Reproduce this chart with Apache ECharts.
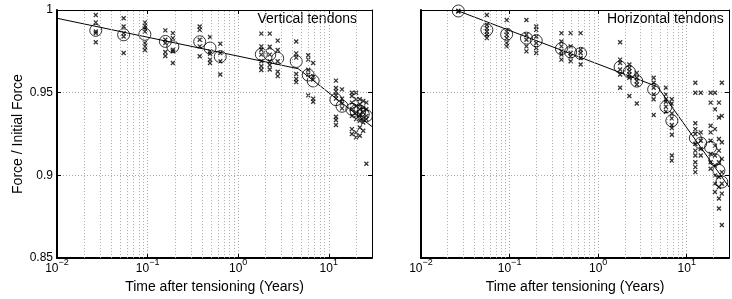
<!DOCTYPE html>
<html>
<head>
<meta charset="utf-8">
<script src="https://cdn.jsdelivr.net/npm/echarts@6/dist/echarts.min.js"></script>
<style>
  html, body { margin: 0; padding: 0; background: #fff; }
  #chart { width: 732px; height: 299px; }
</style>
</head>
<body>
<div id="chart"></div>
<script>
// ---- vertical tendons (left panel) ----
const vTimes = [0.0268, 0.0544, 0.0933, 0.157, 0.19, 0.376, 0.489, 0.634, 1.80, 2.23, 2.73, 4.37, 5.93, 6.73, 12.0, 14.0, 18, 20, 22, 24, 26];
const vMeans = [0.9877, 0.985, 0.9853, 0.981, 0.9778, 0.9808, 0.977, 0.9718, 0.9732, 0.973, 0.9708, 0.9689, 0.9607, 0.9571, 0.9458, 0.9418, 0.940, 0.939, 0.939, 0.937, 0.936];
const vReadings = [
  [0.997, 0.9925, 0.987, 0.986, 0.9805],
  [0.995, 0.990, 0.986, 0.984, 0.974],
  [0.9925, 0.9905, 0.989, 0.987, 0.980, 0.978, 0.9758],
  [0.9877, 0.982, 0.980, 0.9746, 0.9722],
  [0.986, 0.983, 0.976, 0.975, 0.968],
  [0.990, 0.988, 0.982, 0.978, 0.972],
  [0.9837, 0.975, 0.9736, 0.970, 0.968],
  [0.9796, 0.974, 0.969, 0.961],
  [0.9857, 0.978, 0.976, 0.973, 0.969, 0.966, 0.9637],
  [0.9857, 0.9778, 0.973, 0.969, 0.9667, 0.964],
  [0.9815, 0.9758, 0.969, 0.9627, 0.960],
  [0.981, 0.9738, 0.9712, 0.9613, 0.9583, 0.9564],
  [0.9726, 0.970, 0.9639, 0.961, 0.9484],
  [0.968, 0.960, 0.958, 0.9464, 0.9445],
  [0.9573, 0.9528, 0.9508, 0.9484, 0.9464, 0.9355, 0.9335, 0.9305],
  [0.952, 0.9464, 0.9435, 0.9405],
  [0.950, 0.948, 0.944, 0.940, 0.936, 0.928, 0.925],
  [0.950, 0.946, 0.942, 0.938, 0.934, 0.926, 0.923],
  [0.946, 0.943, 0.940, 0.937, 0.933, 0.929, 0.924],
  [0.945, 0.941, 0.938, 0.935, 0.932, 0.927],
  [0.944, 0.940, 0.936, 0.934, 0.907]
];
const vFitT = [0.01, 4.6, 30];
const vFitF = [0.995, 0.9645, 0.9295];

// ---- horizontal tendons (right panel) ----
const hTimes = [0.0264, 0.0554, 0.0927, 0.155, 0.2, 0.385, 0.489, 0.634, 1.77, 2.25, 2.73, 4.23, 5.83, 6.79, 12.5, 14.4, 18.6, 20.8, 23.1, 24.9];
const hMeans = [0.9994, 0.988, 0.9853, 0.983, 0.9814, 0.9766, 0.9746, 0.9738, 0.9655, 0.9627, 0.957, 0.952, 0.9415, 0.933, 0.9226, 0.9195, 0.917, 0.9095, 0.903, 0.896];
const hReadings = [
  [0.9995, 0.999],
  [0.997, 0.991, 0.989, 0.987, 0.985, 0.983],
  [0.994, 0.987, 0.985, 0.983, 0.980, 0.978],
  [0.994, 0.985, 0.982, 0.978, 0.975],
  [0.990, 0.988, 0.984, 0.980, 0.977, 0.974],
  [0.986, 0.981, 0.978, 0.975, 0.973, 0.970],
  [0.986, 0.978, 0.974, 0.972, 0.969],
  [0.986, 0.976, 0.974, 0.971, 0.967],
  [0.9805, 0.970, 0.968, 0.964, 0.961, 0.953],
  [0.967, 0.965, 0.963, 0.961, 0.959, 0.948],
  [0.962, 0.959, 0.957, 0.955, 0.9435],
  [0.959, 0.956, 0.953, 0.949, 0.946, 0.9365],
  [0.953, 0.949, 0.946, 0.9445, 0.9415, 0.9385],
  [0.946, 0.9435, 0.9375, 0.9345, 0.9305, 0.9286, 0.9246, 0.912, 0.909],
  [0.956, 0.950, 0.9315, 0.928, 0.925, 0.919, 0.915, 0.912, 0.908, 0.905, 0.902],
  [0.950, 0.926, 0.921, 0.916, 0.912],
  [0.950, 0.944, 0.930, 0.926, 0.921, 0.913, 0.908, 0.904],
  [0.950, 0.940, 0.928, 0.918, 0.912, 0.906, 0.900, 0.895, 0.890],
  [0.944, 0.935, 0.922, 0.915, 0.908, 0.899, 0.893, 0.886, 0.880],
  [0.956, 0.936, 0.920, 0.910, 0.902, 0.895, 0.889, 0.870]
];
const hFitT = [0.0264, 4.68, 30];
const hFitF = [0.9994, 0.9536, 0.893];

const panelTitles = ['Vertical tendons', 'Horizontal tendons'];
const yTicks = [0.85, 0.9, 0.95, 1];

// minor log grid positions 2..9 x 10^n
const minorGrid = [];
for (let e = -2; e <= 1; e++) {
  for (let k = 2; k <= 9; k++) {
    const v = k * Math.pow(10, e);
    if (v < 30) minorGrid.push(+v.toPrecision(3));
  }
}

function pairs(ts, vs) { return ts.map((t, i) => [t, vs[i]]); }
function crossPairs(ts, rs) {
  const out = [];
  ts.forEach((t, i) => rs[i].forEach(v => out.push([t, v])));
  return out;
}

const chart = echarts.init(document.getElementById('chart'));
const FONT = 'Liberation Sans, Arial, sans-serif';
const dotted = { color: '#aaa', width: 1, type: [1, 2] };

function xLabel(v) {
  const e = Math.log10(v);
  if (Math.abs(e - Math.round(e)) > 1e-6) return '';
  const r = Math.round(e);
  return '{b|10}{s|' + (r < 0 ? '\u2212' + (-r) : r) + '}';
}

function xAxes(gi) {
  return [{
    gridIndex: gi, type: 'log', logBase: 10, min: 0.01, max: 30, position: 'bottom',
    name: 'Time after tensioning (Years)', nameLocation: 'middle', nameGap: 16,
    nameTextStyle: { fontFamily: FONT, fontSize: 14, color: '#000' },
    axisLine: { lineStyle: { color: '#000', width: 2 } },
    axisTick: { inside: true, length: 4, lineStyle: { color: '#000' } },
    axisLabel: {
      formatter: xLabel, margin: 0, color: '#000',
      rich: {
        b: { fontFamily: FONT, fontSize: 12, lineHeight: 17, verticalAlign: 'bottom', color: '#000' },
        s: { fontFamily: FONT, fontSize: 9, verticalAlign: 'top', color: '#000' }
      }
    },
    splitLine: { show: true, lineStyle: dotted }
  }, {
    gridIndex: gi, type: 'log', logBase: 10, min: 0.01, max: 30, position: 'top',
    axisLine: { lineStyle: { color: '#000', width: 1 } },
    axisTick: { inside: true, length: 4, lineStyle: { color: '#000' } },
    axisLabel: { show: false }, splitLine: { show: false }
  }];
}

function yAxes(gi, showLabels) {
  return [{
    gridIndex: gi, type: 'value', min: 0.85, max: 1, interval: 0.05, position: 'left',
    name: showLabels ? 'Force / Initial Force' : '', nameLocation: 'middle', nameGap: 32,
    nameTextStyle: { fontFamily: FONT, fontSize: 14, color: '#000' },
    axisLine: { show: true, lineStyle: { color: '#000', width: 2 } },
    axisTick: { show: true, inside: true, length: 4, lineStyle: { color: '#000' } },
    axisLabel: {
      show: showLabels, margin: 4, color: '#000', fontFamily: FONT, fontSize: 12,
      formatter: v => yTicks.some(t => Math.abs(t - v) < 1e-9) ? String(+v.toFixed(2)) : ''
    },
    splitLine: { show: true, lineStyle: dotted }
  }, {
    gridIndex: gi, type: 'value', min: 0.85, max: 1, interval: 0.05, position: 'right',
    axisLine: { show: true, lineStyle: { color: '#000', width: 1 } },
    axisTick: { show: true, inside: true, length: 4, lineStyle: { color: '#000' } },
    axisLabel: { show: false }, splitLine: { show: false }
  }];
}

function panelSeries(xi, yi, times, means, readings, fitT, fitF) {
  return [{
    type: 'line', xAxisIndex: xi, yAxisIndex: yi, data: [], silent: true,
    markLine: {
      silent: true, symbol: ['none', 'none'], label: { show: false },
      lineStyle: dotted, animation: false,
      data: minorGrid.map(v => ({ xAxis: v }))
    }
  }, {
    type: 'scatter', xAxisIndex: xi, yAxisIndex: yi,
    data: crossPairs(times, readings),
    symbol: 'path://M0,0L10,10M10,0L0,10', symbolSize: 4,
    itemStyle: { color: 'transparent', borderColor: '#000', borderWidth: 1.3 }
  }, {
    type: 'scatter', xAxisIndex: xi, yAxisIndex: yi,
    data: pairs(times, means), symbol: 'circle', symbolSize: 12,
    itemStyle: { color: 'transparent', borderColor: '#000', borderWidth: 1 }
  }, {
    type: 'line', xAxisIndex: xi, yAxisIndex: yi,
    data: pairs(fitT, fitF), symbol: 'none',
    lineStyle: { color: '#000', width: 1 }
  }];
}

chart.setOption({
  animation: false,
  backgroundColor: '#fff',
  grid: [
    { left: 57, top: 10, width: 315, height: 252 },
    { left: 421, top: 10, width: 316, height: 252 }
  ],
  xAxis: [...xAxes(0), ...xAxes(1)],
  yAxis: [...yAxes(0, true), ...yAxes(1, false)],
  graphic: [
    { type: 'text', right: 732 - 357, top: 12, style: { text: panelTitles[0], font: '14px ' + FONT, fill: '#000' } },
    { type: 'text', left: 607, top: 12, style: { text: panelTitles[1], font: '14px ' + FONT, fill: '#000' } }
  ],
  series: [
    ...panelSeries(0, 0, vTimes, vMeans, vReadings, vFitT, vFitF),
    ...panelSeries(2, 2, hTimes, hMeans, hReadings, hFitT, hFitF)
  ]
});
</script>
</body>
</html>
